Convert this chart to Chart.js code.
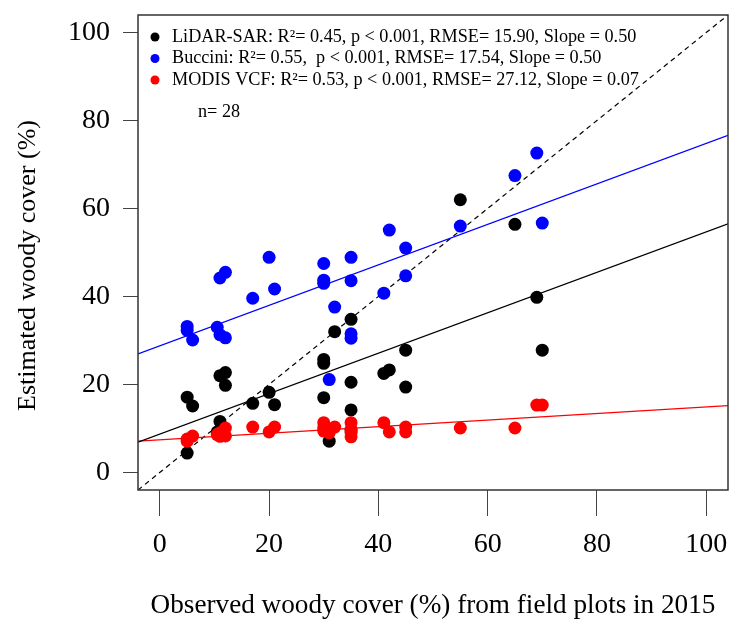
<!DOCTYPE html>
<html>
<head>
<meta charset="utf-8">
<script src="https://cdn.jsdelivr.net/npm/chart.js@4.4.1/dist/chart.umd.min.js"></script>
<style>
    html, body { margin: 0; padding: 0; background: #fff; }
    #wrap { width: 729px; height: 619px; }
</style>
</head>
<body>
<div id="wrap"><canvas id="woodyChart" width="729" height="619"></canvas></div>
<script>
// Field plot woody cover (%) and the three estimates, one value per plot
const observed = [5, 5, 6, 10.5, 11, 11, 12, 12, 17, 20, 21, 30, 30, 30, 31, 32, 35, 35, 35, 35, 41, 42, 45, 45, 55, 65, 69, 70];
const lidarSar = [17.1, 4.4, 15.1, 9.2, 11.6, 22.0, 22.7, 19.8, 15.7, 18.2, 15.4, 25.7, 24.8, 17.0, 7.1, 32.0, 34.8, 20.5, 14.2, 9.5, 22.5, 23.3, 27.8, 19.4, 62.0, 56.4, 39.8, 27.8];
const buccini = [33.2, 32.3, 30.1, 33.0, 31.3, 44.2, 30.6, 45.5, 39.6, 48.9, 41.7, 47.5, 43.0, 43.7, 21.1, 37.6, 48.9, 43.6, 31.5, 30.5, 40.75, 55.1, 51.0, 44.7, 56.0, 67.5, 72.6, 56.7];
const modisVcf = [7.1, 7.6, 8.25, 8.6, 8.2, 9.0, 10.1, 8.3, 10.3, 9.2, 10.3, 11.3, 9.4, 10.2, 9.0, 10.3, 11.3, 9.8, 8.1, 9.0, 11.3, 9.2, 10.3, 9.2, 10.1, 10.1, 15.3, 15.3];

// Fitted regression lines (LiDAR-SAR, Buccini, MODIS VCF)
const fitIntercepts = [8.7, 28.8, 7.4];
const fitSlopes = [0.46, 0.46, 0.075];

const seriesNames = ['LiDAR-SAR', 'Buccini', 'MODIS VCF'];
const seriesColors = ['#000000', '#0000ff', '#ff0000'];
const legendLabels = [
    'LiDAR-SAR: R\u00b2= 0.45, p < 0.001, RMSE= 15.90, Slope = 0.50',
    'Buccini: R\u00b2= 0.55,  p < 0.001, RMSE= 17.54, Slope = 0.50',
    'MODIS VCF: R\u00b2= 0.53, p < 0.001, RMSE= 27.12, Slope = 0.07'
];
const yTitle = 'Estimated woody cover (%)';

const xTicks = [0, 20, 40, 60, 80, 100];
const yTicks = [0, 20, 40, 60, 80, 100];
const axisMin = -4;
const axisMax = 104;

const serif = '"Liberation Serif", "Times New Roman", serif';

const pointsOf = values => observed.map((x, i) => ({ x: x, y: values[i] }));
const fitLine = i => [axisMin, axisMax].map(x => ({ x: x, y: fitIntercepts[i] + fitSlopes[i] * x }));

// drop the extra room chart.js keeps for overhanging tick labels
const noScalePadding = scale => {
    scale.paddingTop = 0;
    scale.paddingBottom = 0;
    scale.paddingLeft = 0;
    scale.paddingRight = 0;
};

// box, legend text and y title drawn by hand
const plotExtras = {
    id: 'plotExtras',
    afterDatasetsDraw(chart) {
        const { ctx, chartArea } = chart;
        ctx.save();
        ctx.strokeStyle = '#333';
        ctx.lineWidth = 1.5;
        ctx.strokeRect(chartArea.left, chartArea.top, chartArea.right - chartArea.left, chartArea.bottom - chartArea.top);

        ctx.font = '18.2px ' + serif;
        ctx.textBaseline = 'middle';
        legendLabels.forEach((label, i) => {
            const y = chartArea.top + 22 + i * 21.5;
            ctx.fillStyle = seriesColors[i];
            ctx.beginPath();
            ctx.arc(chartArea.left + 17, y, 4.5, 0, Math.PI * 2);
            ctx.fill();
            ctx.fillStyle = '#000';
            ctx.fillText(label, chartArea.left + 34, y);
        });
        ctx.fillText('n= ' + observed.length, chartArea.left + 60, chartArea.top + 97);

        // y axis title, a bit below the plot centre like the original
        ctx.translate(28, (chartArea.top + chartArea.bottom) / 2 + 13);
        ctx.rotate(-Math.PI / 2);
        ctx.textAlign = 'center';
        ctx.font = '26px ' + serif;
        ctx.fillText(yTitle, 0, 0);
        ctx.restore();
    }
};

const datasets = [];
// red on top, then blue, then black
[2, 1, 0].forEach((s, k) => {
    datasets.push({
        label: seriesNames[s],
        data: pointsOf([lidarSar, buccini, modisVcf][s]),
        backgroundColor: seriesColors[s],
        borderColor: seriesColors[s],
        pointRadius: 6.5,
        pointBorderWidth: 0,
        showLine: false,
        order: k
    });
});
[0, 1, 2].forEach(s => {
    datasets.push({
        label: seriesNames[s] + ' fit',
        data: fitLine(s),
        borderColor: seriesColors[s],
        borderWidth: 1.3,
        pointRadius: 0,
        showLine: true,
        order: 5
    });
});
datasets.push({
    label: '1:1',
    data: [{ x: axisMin, y: axisMin }, { x: axisMax, y: axisMax }],
    borderColor: '#000',
    borderWidth: 1.2,
    borderDash: [5, 4],
    pointRadius: 0,
    showLine: true,
    order: 6
});

new Chart(document.getElementById('woodyChart'), {
    type: 'scatter',
    data: { datasets: datasets },
    options: {
        responsive: false,
        animation: false,
        layout: { autoPadding: false, padding: { top: 15, right: 1, left: 0, bottom: 0 } },
        plugins: {
            legend: { display: false },
            tooltip: { enabled: false }
        },
        scales: {
            x: {
                type: 'linear',
                min: axisMin,
                max: axisMax,
                afterBuildTicks: scale => { scale.ticks = xTicks.map(v => ({ value: v })); },
                afterFit: scale => { scale.height = 129; noScalePadding(scale); },
                border: { display: false },
                grid: { drawOnChartArea: false, drawTicks: true, tickLength: 26, tickColor: '#444', tickWidth: 1 },
                ticks: { color: '#000', padding: 12, font: { family: serif, size: 28 } },
                title: {
                    display: true,
                    text: 'Observed woody cover (%) from field plots in 2015',
                    color: '#000',
                    font: { family: serif, size: 27.2, lineHeight: 1 },
                    padding: { top: 0, bottom: 0 }
                }
            },
            y: {
                type: 'linear',
                min: axisMin,
                max: axisMax,
                afterBuildTicks: scale => { scale.ticks = yTicks.map(v => ({ value: v })); },
                afterFit: scale => { scale.width = 138; noScalePadding(scale); },
                border: { display: false },
                grid: { drawOnChartArea: false, drawTicks: true, tickLength: 15, tickColor: '#444', tickWidth: 1 },
                ticks: { color: '#000', padding: 13, font: { family: serif, size: 28 } },
                title: { display: false }
            }
        }
    },
    plugins: [plotExtras]
});
</script>
</body>
</html>
